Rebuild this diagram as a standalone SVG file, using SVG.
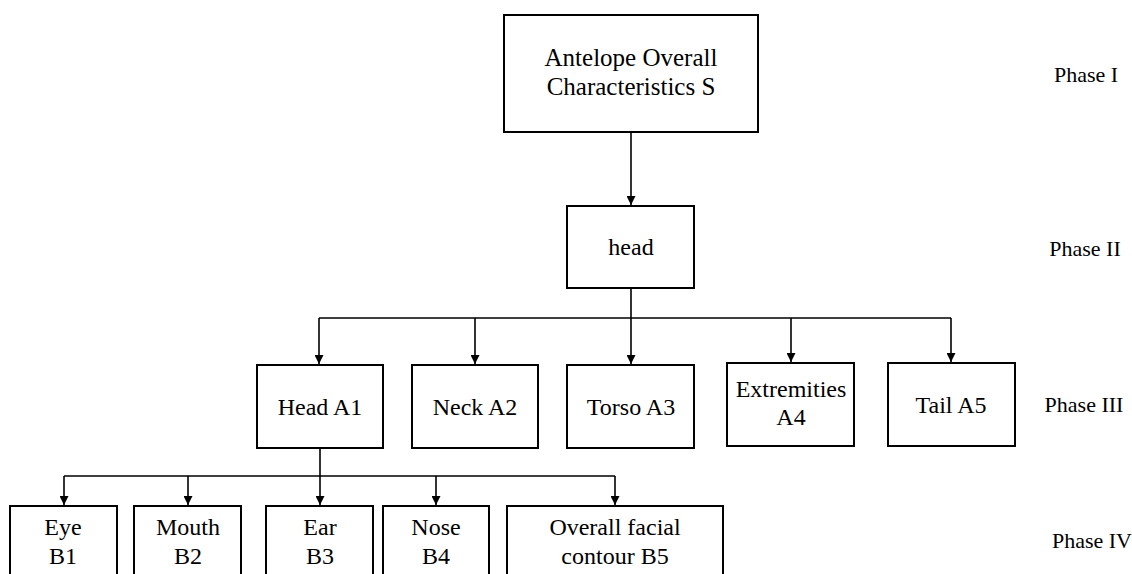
<svg xmlns="http://www.w3.org/2000/svg" width="1132" height="574" viewBox="0 0 1132 574" font-family="'Liberation Serif', 'Times New Roman', serif">
<style>
.box{fill:#fff;stroke:#000;stroke-width:2}
text{font-family:'Liberation Serif','Times New Roman',serif;fill:#000;text-anchor:middle}
.t{font-size:24px}
.big{font-size:25px}
.ph{font-size:22px}
.c{fill:none;stroke:#000;stroke-width:1.6}
</style>
<defs>
<marker id="ah" viewBox="0 0 10 10" refX="10" refY="5" markerWidth="9" markerHeight="9" markerUnits="userSpaceOnUse" orient="auto">
<path d="M0,0 L10,5 L0,10 z" fill="#000"/>
</marker>
</defs>
<rect width="1132" height="574" fill="#fff"/>
<g id="connectors">
<path class="c" d="M631,132 V205" marker-end="url(#ah)"/>
<path class="c" d="M631,288 V318 M319,318 H951"/>
<path class="c" d="M319,318 V364" marker-end="url(#ah)"/>
<path class="c" d="M475,318 V364" marker-end="url(#ah)"/>
<path class="c" d="M631,318 V364" marker-end="url(#ah)"/>
<path class="c" d="M791,318 V362" marker-end="url(#ah)"/>
<path class="c" d="M951,318 V362" marker-end="url(#ah)"/>
<path class="c" d="M320,448 V476 M64,476 H615"/>
<path class="c" d="M64,476 V505" marker-end="url(#ah)"/>
<path class="c" d="M188,476 V505" marker-end="url(#ah)"/>
<path class="c" d="M320,476 V505" marker-end="url(#ah)"/>
<path class="c" d="M436,476 V505" marker-end="url(#ah)"/>
<path class="c" d="M615,476 V505" marker-end="url(#ah)"/>
</g>
<g id="S">
<rect class="box" x="504" y="15" width="254" height="117"/>
<text class="big" x="631" y="66" font-family="'Liberation Serif', serif">Antelope Overall</text>
<text class="big" x="631" y="95" font-family="'Liberation Serif', serif">Characteristics S</text>
</g>
<g id="head">
<rect class="box" x="567" y="206" width="127" height="82"/>
<text class="t" x="631" y="255" font-family="'Liberation Serif', serif">head</text>
</g>
<g id="A1">
<rect class="box" x="257" y="365" width="126" height="83"/>
<text class="t" x="320" y="415" font-family="'Liberation Serif', serif">Head A1</text>
</g>
<g id="A2">
<rect class="box" x="412" y="365" width="126" height="83"/>
<text class="t" x="475" y="415" font-family="'Liberation Serif', serif">Neck A2</text>
</g>
<g id="A3">
<rect class="box" x="567" y="365" width="127" height="83"/>
<text class="t" x="631" y="415" font-family="'Liberation Serif', serif">Torso A3</text>
</g>
<g id="A4">
<rect class="box" x="727" y="363" width="127" height="83"/>
<text class="t" x="791" y="397" font-family="'Liberation Serif', serif">Extremities</text>
<text class="t" x="791" y="425" font-family="'Liberation Serif', serif">A4</text>
</g>
<g id="A5">
<rect class="box" x="888" y="363" width="127" height="83"/>
<text class="t" x="951" y="413" font-family="'Liberation Serif', serif">Tail A5</text>
</g>
<g id="B1">
<rect class="box" x="10" y="506" width="107" height="80"/>
<text class="t" x="63" y="535" font-family="'Liberation Serif', serif">Eye</text>
<text class="t" x="63" y="564" font-family="'Liberation Serif', serif">B1</text>
</g>
<g id="B2">
<rect class="box" x="134" y="506" width="107" height="80"/>
<text class="t" x="188" y="535" font-family="'Liberation Serif', serif">Mouth</text>
<text class="t" x="188" y="564" font-family="'Liberation Serif', serif">B2</text>
</g>
<g id="B3">
<rect class="box" x="266" y="506" width="107" height="80"/>
<text class="t" x="320" y="535" font-family="'Liberation Serif', serif">Ear</text>
<text class="t" x="320" y="564" font-family="'Liberation Serif', serif">B3</text>
</g>
<g id="B4">
<rect class="box" x="383" y="506" width="106" height="80"/>
<text class="t" x="436" y="535" font-family="'Liberation Serif', serif">Nose</text>
<text class="t" x="436" y="564" font-family="'Liberation Serif', serif">B4</text>
</g>
<g id="B5">
<rect class="box" x="507" y="506" width="216" height="80"/>
<text class="t" x="615" y="535" font-family="'Liberation Serif', serif">Overall facial</text>
<text class="t" x="615" y="564" font-family="'Liberation Serif', serif">contour B5</text>
</g>
<g id="phases">
<text class="ph" x="1086" y="82">Phase I</text>
<text class="ph" x="1085" y="256">Phase II</text>
<text class="ph" x="1084" y="412">Phase III</text>
<text class="ph" x="1092" y="548">Phase IV</text>
</g>
</svg>
